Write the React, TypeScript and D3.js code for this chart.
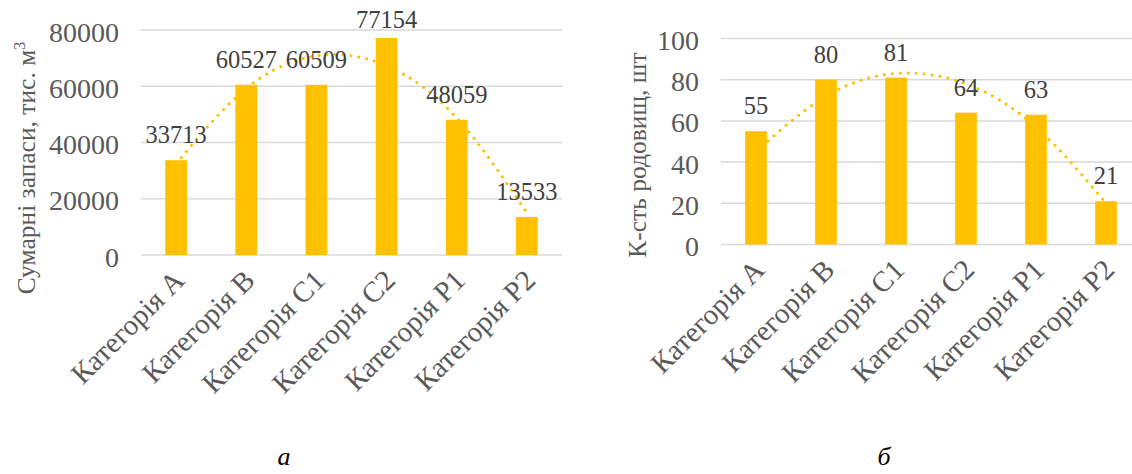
import { useEffect, useRef } from "react";
import * as d3 from "d3";

const categories = [
  "Категорія A",
  "Категорія B",
  "Категорія C1",
  "Категорія C2",
  "Категорія P1",
  "Категорія P2",
];

// panel а: total reserves
const reserves = [33713, 60527, 60509, 77154, 48059, 13533];
const reservesTrend = [32400, 59200, 70800, 67300, 48700, 15000];
const reserveTicks = [0, 20000, 40000, 60000, 80000];

// panel б: number of deposits
const deposits = [55, 80, 81, 64, 63, 21];
const depositsTrend = [45, 72, 83, 78, 57, 20];
const depositTicks = [0, 20, 40, 60, 80, 100];

const WIDTH = 1132;
const HEIGHT = 474;
const FONT = "'Liberation Serif', 'Times New Roman', serif";
const BAR_COLOR = "#FFC000";
const GRID_COLOR = "#d9d9d9";

interface Panel {
  left: number;
  right: number;
  bottom: number;
  top: number;
  max: number;
  values: number[];
  trend: number[];
  ticks: number[];
  title: string;
  titleSup?: string;
  titleX: number;
  titleY: number;
  caption: string;
  captionX: number;
}

const panels: Panel[] = [
  {
    left: 141,
    right: 562,
    bottom: 255,
    top: 30,
    max: 80000,
    values: reserves,
    trend: reservesTrend,
    ticks: reserveTicks,
    title: "Сумарні запаси, тис. м",
    titleSup: "3",
    titleX: 35,
    titleY: 168,
    caption: "а",
    captionX: 284,
  },
  {
    left: 721,
    right: 1141,
    bottom: 244.5,
    top: 38.5,
    max: 100,
    values: deposits,
    trend: depositsTrend,
    ticks: depositTicks,
    title: "К-сть родовищ, шт",
    titleX: 646,
    titleY: 155,
    caption: "б",
    captionX: 884,
  },
];

export default function App() {
  const svgRef = useRef<SVGSVGElement>(null);

  useEffect(() => {
    if (!svgRef.current) return;
    const svg = d3.select(svgRef.current);
    svg.selectAll("*").remove();

    panels.forEach((p) => {
      const x = d3
        .scaleBand<string>()
        .domain(categories)
        .range([p.left, p.right])
        .paddingInner(0.69)
        .paddingOuter(0.345);
      const y = d3.scaleLinear().domain([0, p.max]).range([p.bottom, p.top]);
      const g = svg.append("g");

      // gridlines
      p.ticks.forEach((t) => {
        g.append("line")
          .attr("x1", p.left)
          .attr("x2", p.right)
          .attr("y1", y(t))
          .attr("y2", y(t))
          .attr("stroke", GRID_COLOR)
          .attr("stroke-width", 1.5);
      });

      // tick labels
      p.ticks.forEach((t) => {
        g.append("text")
          .attr("x", p.left - 22)
          .attr("y", y(t) + 2)
          .attr("text-anchor", "end")
          .attr("dominant-baseline", "central")
          .attr("font-family", FONT)
          .attr("font-size", "28px")
          .attr("fill", "#595959")
          .text(String(t));
      });

      // bars
      p.values.forEach((v, i) => {
        g.append("rect")
          .attr("x", x(categories[i])!)
          .attr("y", y(v))
          .attr("width", x.bandwidth())
          .attr("height", y(0) - y(v))
          .attr("fill", BAR_COLOR);
      });

      // trendline
      const line = d3
        .line<number>()
        .x((_, i) => x(categories[i])! + x.bandwidth() / 2)
        .y((d) => y(d))
        .curve(d3.curveNatural);
      g.append("path")
        .datum(p.trend)
        .attr("d", line)
        .attr("fill", "none")
        .attr("stroke", BAR_COLOR)
        .attr("stroke-width", 3)
        .attr("stroke-linecap", "round")
        .attr("stroke-dasharray", "0.1 7.9");

      // data labels
      p.values.forEach((v, i) => {
        g.append("text")
          .attr("x", x(categories[i])! + x.bandwidth() / 2)
          .attr("y", Math.max(y(v) - 17, 28))
          .attr("text-anchor", "middle")
          .attr("font-family", FONT)
          .attr("font-size", "24.5px")
          .attr("fill", "#404040")
          .text(String(v));
      });

      // category labels
      categories.forEach((c) => {
        const cx = x(c)! + x.bandwidth() / 2;
        g.append("text")
          .attr("transform", `translate(${cx + 3}, ${p.bottom + 20}) rotate(-45)`)
          .attr("text-anchor", "end")
          .attr("dominant-baseline", "central")
          .attr("font-family", FONT)
          .attr("font-size", "29px")
          .attr("fill", "#595959")
          .text(c);
      });

      // axis title
      const title = g
        .append("text")
        .attr("transform", `translate(${p.titleX}, ${p.titleY}) rotate(-90)`)
        .attr("text-anchor", "middle")
        .attr("font-family", FONT)
        .attr("font-size", "25.5px")
        .attr("fill", "#595959")
        .text(p.title);
      if (p.titleSup) {
        title
          .append("tspan")
          .attr("dy", -10)
          .attr("font-size", "16px")
          .text(p.titleSup);
      }

      // caption
      g.append("text")
        .attr("x", p.captionX)
        .attr("y", 465)
        .attr("text-anchor", "middle")
        .attr("font-family", FONT)
        .attr("font-style", "italic")
        .attr("font-size", "26px")
        .attr("fill", "#000")
        .text(p.caption);
    });
  }, []);

  return (
    <svg
      ref={svgRef}
      width={WIDTH}
      height={HEIGHT}
      style={{ position: "absolute", left: 0, top: 0, background: "#fff" }}
    ></svg>
  );
}
